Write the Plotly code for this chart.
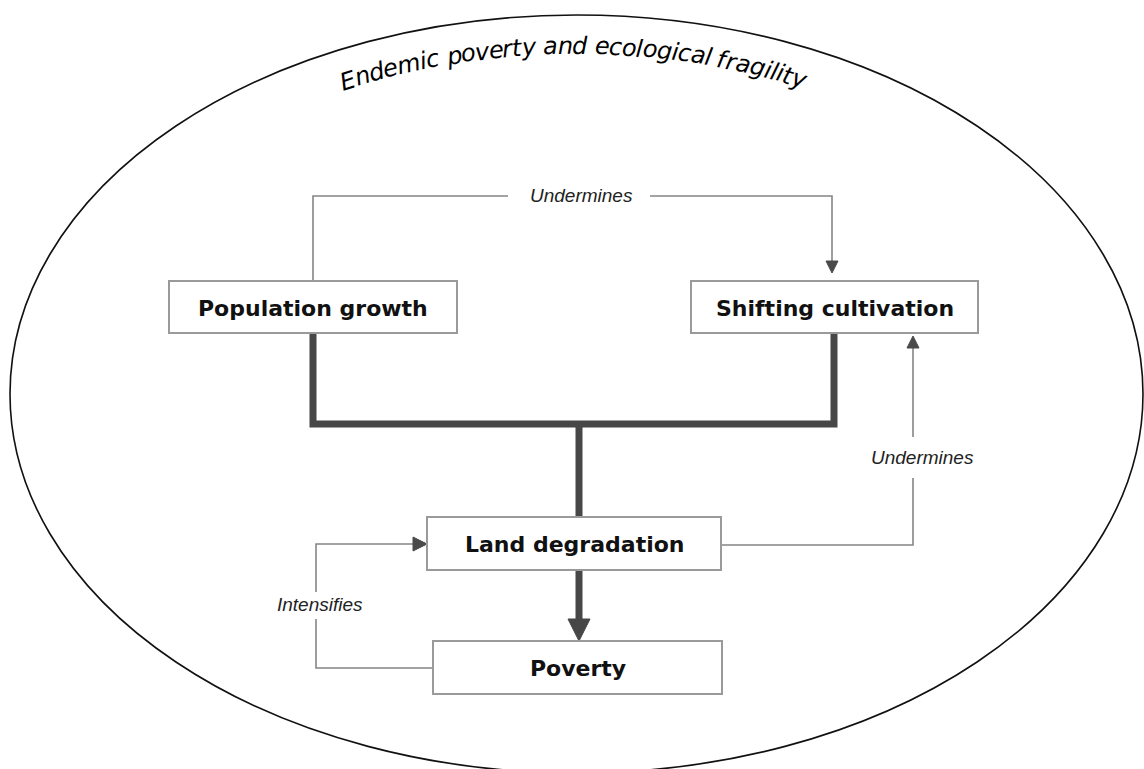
import math
import plotly.graph_objects as go

W, H = 1144, 769

# ---- content -------------------------------------------------------------
node_labels = ["Population growth", "Shifting cultivation", "Land degradation", "Poverty"]
link_labels = ["Undermines", "Undermines", "Intensifies"]
frame_title = "Endemic poverty and ecological fragility"

# ---- layout (pixel space, y downward) -------------------------------------
box_pos = {
    "Population growth": (169, 281, 457, 333),
    "Shifting cultivation": (691, 281, 978, 333),
    "Land degradation": (427, 517, 721, 570),
    "Poverty": (433, 641, 722, 694),
}

THICK = "#474747"
THIN = "#858585"
BOX_LINE = "#9a9a9a"

shapes = []

# outer ellipse
shapes.append(dict(type="circle", xref="x", yref="y", x0=10, y0=15, x1=1143, y1=773,
                   line=dict(color="#111111", width=1.6), fillcolor="rgba(0,0,0,0)", layer="below"))

def path(d, color, width, fill=None):
    s = dict(type="path", xref="x", yref="y", path=d, line=dict(color=color, width=width), layer="below")
    if fill:
        s["fillcolor"] = fill
        s["line"] = dict(color=fill, width=1)
    return s

# thick merging connectors
shapes.append(path("M313,333 L313,424 L834,424 L834,333", THICK, 7))
shapes.append(path("M579,424 L579,517", THICK, 7))
shapes.append(path("M579,570 L579,622", THICK, 7))
shapes.append(path("M568,619 L590,619 L579,641 Z", THICK, 1, fill=THICK))

# thin feedback links
shapes.append(path("M313,281 L313,196 L508,196", THIN, 1.6))
shapes.append(path("M650,196 L832,196 L832,262", THIN, 1.6))
shapes.append(path("M826,261 L838,261 L832,273 Z", THIN, 1, fill="#4a4a4a"))

shapes.append(path("M721,545 L913,545 L913,478", THIN, 1.6))
shapes.append(path("M913,437 L913,348", THIN, 1.6))
shapes.append(path("M907,348 L919,348 L913,336 Z", THIN, 1, fill="#4a4a4a"))

shapes.append(path("M433,668 L316,668 L316,619", THIN, 1.6))
shapes.append(path("M316,592 L316,544 L414,544", THIN, 1.6))
shapes.append(path("M413,537 L413,551 L427,544 Z", THIN, 1, fill="#4a4a4a"))

# boxes
for name in node_labels:
    x0, y0, x1, y1 = box_pos[name]
    shapes.append(dict(type="rect", xref="x", yref="y", x0=x0, y0=y0, x1=x1, y1=y1,
                       line=dict(color=BOX_LINE, width=2), fillcolor="white", layer="above"))

annotations = []
for name in node_labels:
    x0, y0, x1, y1 = box_pos[name]
    annotations.append(dict(x=(x0 + x1) / 2, y=(y0 + y1) / 2 + 1, xref="x", yref="y",
                            text="<b>" + name + "</b>", showarrow=False,
                            font=dict(family="DejaVu Sans", size=22, color="#111111"),
                            xanchor="center", yanchor="middle"))

label_pos = [(581, 195), (922, 457), (320, 604)]
for lab, (lx, ly) in zip(link_labels, label_pos):
    annotations.append(dict(x=lx, y=ly, xref="x", yref="y", text="<i>" + lab + "</i>",
                            showarrow=False, xanchor="center", yanchor="middle",
                            font=dict(family="Liberation Sans", size=19, color="#222222")))

# ---- curved title: one annotation per character along an arc ---------------
adv = {"E": .632, "n": .634, "d": .635, "e": .615, "m": .974, "i": .278, "c": .550,
       " ": .318, "p": .635, "o": .612, "v": .592, "r": .411, "t": .392, "y": .592,
       "a": .613, "l": .278, "g": .635, "f": .352}
acx, acy, arx, ary = 576.5, 396.0, 527.0, 350.0
th_s = math.acos((341 - acx) / arx)
th_e = math.acos((806 - acx) / arx)
N = 4000
ths = [th_s + (th_e - th_s) * k / N for k in range(N + 1)]
pts = [(acx + arx * math.cos(t), acy - ary * math.sin(t)) for t in ths]
cum = [0.0]
for k in range(1, len(pts)):
    cum.append(cum[-1] + math.hypot(pts[k][0] - pts[k - 1][0], pts[k][1] - pts[k - 1][1]))
total = cum[-1]
widths = [adv.get(ch, .6) for ch in frame_title]
scale = total / sum(widths)
s = 0.0
j = 0
for ch, w in zip(frame_title, widths):
    mid = s + w * scale / 2
    s += w * scale
    while j < len(cum) - 1 and cum[j] < mid:
        j += 1
    t = ths[j]
    px, py = pts[j]
    ang = math.degrees(math.atan2(ary * math.cos(t), arx * math.sin(t)))
    if ch == " ":
        continue
    annotations.append(dict(x=px, y=py, xref="x", yref="y", text="<i>" + ch + "</i>",
                            showarrow=False, xanchor="center", yanchor="middle",
                            textangle=ang,
                            font=dict(family="DejaVu Sans", size=24, color="#000000")))

fig = go.Figure()
fig.add_trace(go.Scatter(x=[0, W], y=[0, H], mode="markers", marker=dict(opacity=0),
                         hoverinfo="skip", showlegend=False))
fig.update_layout(
    width=W, height=H, margin=dict(l=0, r=0, t=0, b=0),
    paper_bgcolor="white", plot_bgcolor="white",
    xaxis=dict(range=[0, W], visible=False, fixedrange=True),
    yaxis=dict(range=[H, 0], visible=False, fixedrange=True),
    shapes=shapes, annotations=annotations, showlegend=False,
)
fig.write_html("out.html", config={"displayModeBar": False},
               post_script="document.body.style.margin='0px';document.body.style.overflow='hidden';")
